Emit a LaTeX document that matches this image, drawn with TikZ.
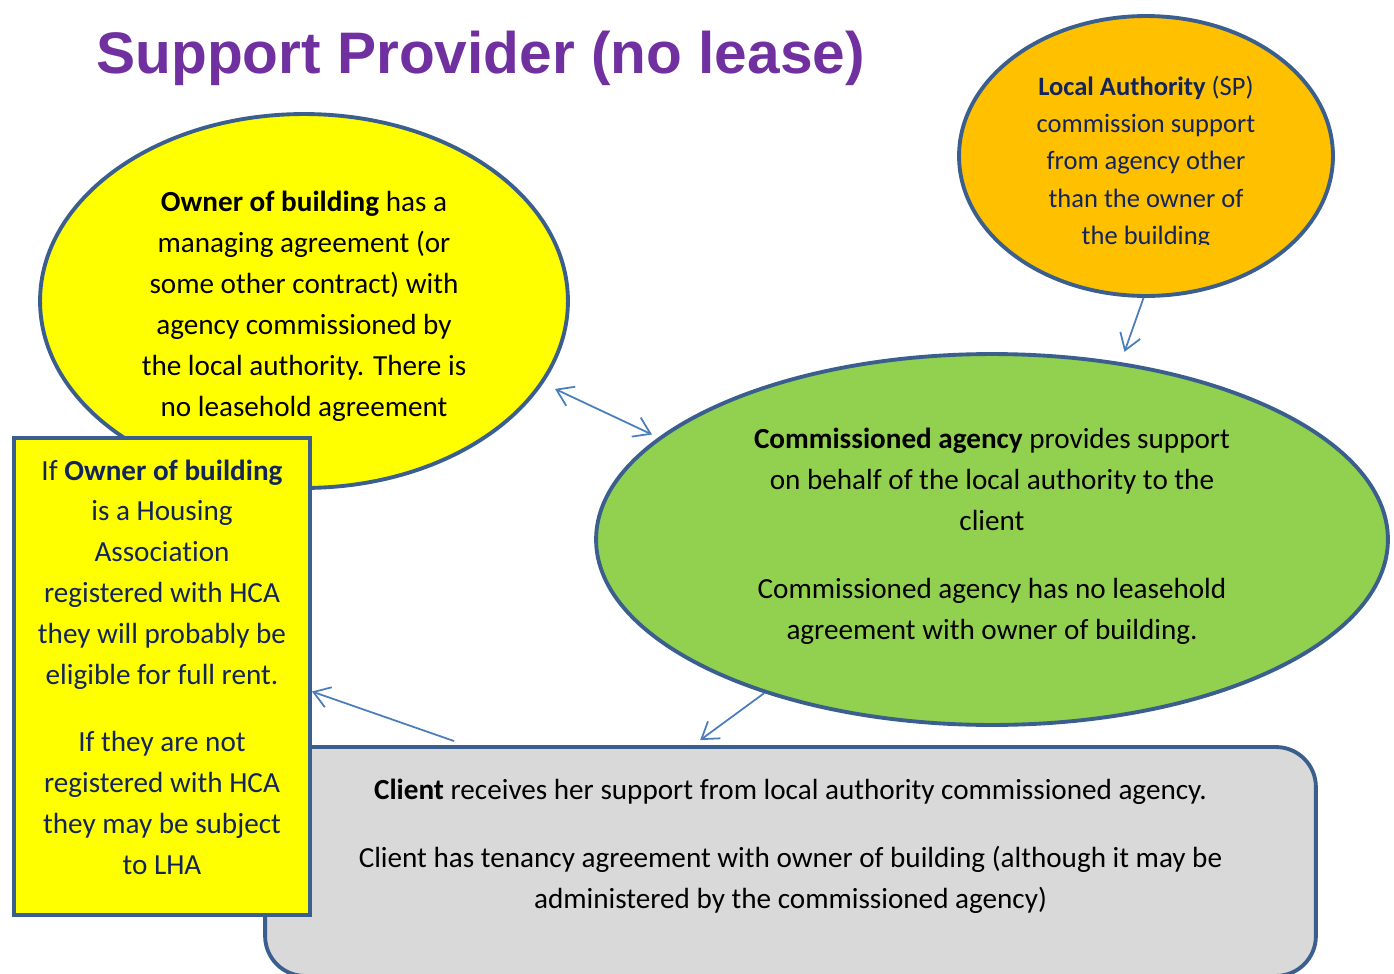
\documentclass[tikz,border=0pt]{standalone}
\usepackage{fontspec}
\setmainfont[RawFeature={-liga;-clig;-calt;-dlig}]{Carlito}
\newfontfamily\titlefont{Liberation Sans}
\usetikzlibrary{shapes.geometric,arrows.meta,calc}
\definecolor{bordc}{HTML}{3A5F8E}
\definecolor{arrc}{HTML}{4A7EBB}
\definecolor{yel}{HTML}{FFFF00}
\definecolor{orng}{HTML}{FFC000}
\definecolor{grn}{HTML}{92D050}
\definecolor{gry}{HTML}{D9D9D9}
\definecolor{purp}{HTML}{7030A0}
\definecolor{navy}{HTML}{13245A}
\begin{document}
\begin{tikzpicture}[x=0.02cm,y=-0.02cm,
  shapebox/.style={draw=bordc, line width=2.2pt, inner sep=0pt},
  oval/.style={shapebox, ellipse},
  body/.style={font=\fontsize{16.6}{23.3}\selectfont, align=center},
  smallbody/.style={font=\fontsize{15.1}{21.2}\selectfont, align=center},
  arr/.style={draw=arrc, line width=1pt, -{Straight Barb[length=9pt,width=12pt]}},
  darr/.style={draw=arrc, line width=1pt, {Straight Barb[length=9pt,width=12pt]}-{Straight Barb[length=9pt,width=12pt]}},
]
\useasboundingbox (0,0) rectangle (1394,974);

% title
\node (title) [anchor=base west, inner sep=0pt, text=purp,
  font=\titlefont\bfseries\fontsize{33.35}{40}\selectfont] at (96,73) {Support Provider (no lease)};

% owner ellipse
\node (oe) [oval, fill=yel, minimum width=10.56cm, minimum height=7.48cm, body] at (304,301)
  {\rule{0pt}{0.62cm}\textbf{Owner of building} has a\\ managing agreement (or\\ some other contract) with\\ agency commissioned by\\ the local authority. There is\\ no leasehold agreement};

% client box
\node (cl) [shapebox, rectangle, rounded corners=0.8cm, fill=gry, minimum width=21.02cm, minimum height=4.58cm] at (790.5,861.5) {};
\node (clt) [body, inner sep=0pt] at (790.5,846)
  {\textbf{Client} receives her support from local authority commissioned agency.\\[0.54cm]
   Client has tenancy agreement with owner of building (although it may be\\
   administered by the commissioned agency)};

% housing association box
\node (hca) [shapebox, rectangle, fill=yel, minimum width=5.92cm, minimum height=9.54cm, body, text=navy, text depth=0.38cm] at (162,676.5)
  {If \textbf{Owner of building}\\ is a Housing\\ Association\\ registered with HCA\\ they will probably be\\ eligible for full rent.\\[0.52cm]
   If they are not\\ registered with HCA\\ they may be subject\\ to LHA};

% local authority ellipse
\node (la) [oval, fill=orng, minimum width=7.48cm, minimum height=5.6cm] at (1146,156) {};
\begin{scope}
  \clip (960,0) rectangle (1340,244);
  \node (lat) [smallbody, inner sep=0pt, text=navy] at (1146,162.5)
    {\textbf{Local Authority} (SP)\\ commission support\\ from agency other\\ than the owner of\\ the building};
\end{scope}

% commissioned agency ellipse
\node (ga) [oval, fill=grn, minimum width=15.84cm, minimum height=7.42cm, body, text depth=0.22cm] at (992,539.5)
  {\textbf{Commissioned agency} provides support\\ on behalf of the local authority to the\\ client\\[0.54cm]
   Commissioned agency has no leasehold\\ agreement with owner of building.};

% connectors
\draw[arr, shorten >=0.22cm] (la.-91) -- (ga.54.5);
\draw[darr, shorten <=0.26cm, shorten >=0.14cm] (oe.-19.8) -- (ga.163.2);
\draw[arr] (ga.-146) -- ($(cl.north west)+(437,-5)$);
\draw[arr] ($(cl.north west)+(191,-4)$) -- ($(hca.east)+(0,15)$);
\end{tikzpicture}
\end{document}
